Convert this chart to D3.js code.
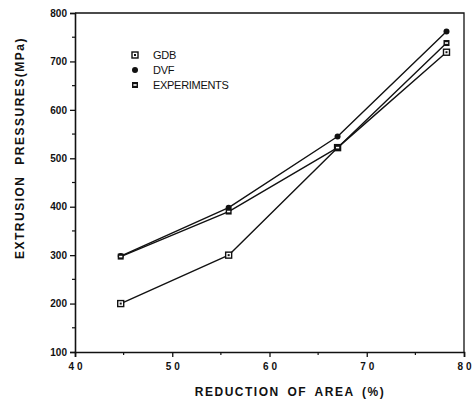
<!DOCTYPE html>
<html>
<head>
<meta charset="utf-8">
<script src="https://cdn.jsdelivr.net/npm/d3@7"></script>
<style>
	body { margin: 0; background: #fff; }
	svg { display: block; font-family: "Liberation Sans", Arial, sans-serif; }
	.tick text { font-size: 10px; font-weight: bold; fill: #111; }
	.title { font-size: 12px; font-weight: bold; fill: #111; letter-spacing: 1.5px; }
	.legend text { font-size: 11px; fill: #111; letter-spacing: -0.3px; }
</style>
</head>
<body>
<svg width="472" height="400"></svg>
<script>
// data
var reduction = [44.7, 55.8, 67, 78.2];
var gdb = [200, 300, 522, 719];
var dvf = [298, 398, 545, 762];
var experiments = [297, 390, 522, 738];
var xTicks = [40, 50, 60, 70, 80];
var yTicks = [100, 200, 300, 400, 500, 600, 700, 800];

var series = [
	{ name: "GDB", values: gdb, marker: "boxdot" },
	{ name: "DVF", values: dvf, marker: "dot" },
	{ name: "EXPERIMENTS", values: experiments, marker: "boxbar" }
];

var svg = d3.select("svg");

var x = d3.scaleLinear().domain([40, 80]).range([75, 464]);
var y = d3.scaleLinear().domain([100, 800]).range([352, 13]);

// frame (top + right)
svg.append("path")
	.attr("d", "M" + x(40) + "," + y(800) + "H" + x(80) + "V" + y(100))
	.attr("fill", "none")
	.attr("stroke", "#111")
	.attr("stroke-width", 1.3);

// x axis
var xAxis = svg.append("g")
	.attr("transform", "translate(0," + y(100) + ")")
	.call(d3.axisBottom(x).tickValues(xTicks).tickSize(5).tickPadding(6)
		.tickFormat(function(d) { return String(d).split("").join(" "); }));
xAxis.select(".domain").attr("stroke-width", 1.6).attr("stroke", "#111");
xAxis.selectAll(".tick line").attr("stroke", "#111").attr("stroke-width", 1.3);
xAxis.selectAll(".minor")
	.data([45, 55, 65, 75])
	.enter().append("line")
	.attr("x1", function(d) { return x(d); })
	.attr("x2", function(d) { return x(d); })
	.attr("y1", 0).attr("y2", 3)
	.attr("stroke", "#111").attr("stroke-width", 1.2);

// y axis
var yAxis = svg.append("g")
	.attr("transform", "translate(" + x(40) + ",0)")
	.call(d3.axisLeft(y).tickValues(yTicks).tickSize(5).tickPadding(3));
yAxis.select(".domain").attr("stroke-width", 1.6).attr("stroke", "#111");
yAxis.selectAll(".tick line").attr("stroke", "#111").attr("stroke-width", 1.3);
yAxis.selectAll(".minor")
	.data([150, 250, 350, 450, 550, 650, 750])
	.enter().append("line")
	.attr("y1", function(d) { return y(d); })
	.attr("y2", function(d) { return y(d); })
	.attr("x1", 0).attr("x2", -3)
	.attr("stroke", "#111").attr("stroke-width", 1.2);

// titles
svg.append("text")
	.attr("class", "title")
	.attr("x", 290).attr("y", 396)
	.attr("text-anchor", "middle")
	.attr("word-spacing", "3px")
	.text("REDUCTION OF AREA (%)");
svg.append("text")
	.attr("class", "title")
	.attr("transform", "translate(24,148) rotate(-90)")
	.attr("text-anchor", "middle")
	.attr("word-spacing", "6px")
	.text("EXTRUSION PRESSURES(MPa)");

// lines (hand drawn in the original, nearly straight between points)
var line = d3.line()
	.x(function(d, i) { return x(reduction[i]); })
	.y(function(d) { return y(d); });

svg.append("g").selectAll("path")
	.data(series)
	.enter().append("path")
	.attr("d", function(d) { return line(d.values); })
	.attr("fill", "none")
	.attr("stroke", "#111")
	.attr("stroke-width", 1.4)
	.attr("stroke-linejoin", "round");

function drawMarker(g, type) {
	if (type == "dot") {
		g.append("circle").attr("r", 3).attr("fill", "#111");
	} else if (type == "boxdot") {
		g.append("rect").attr("x", -3).attr("y", -3).attr("width", 6).attr("height", 6)
			.attr("fill", "#fff").attr("stroke", "#111").attr("stroke-width", 1.4);
		g.append("rect").attr("x", -1).attr("y", -1).attr("width", 2).attr("height", 2).attr("fill", "#111");
	} else {
		g.append("rect").attr("x", -3).attr("y", -3).attr("width", 6).attr("height", 6)
			.attr("fill", "#111");
		g.append("rect").attr("x", -1.6).attr("y", -0.8).attr("width", 3.2).attr("height", 1.6).attr("fill", "#fff");
	}
}

// markers
series.forEach(function(s) {
	s.values.forEach(function(v, i) {
		var g = svg.append("g").attr("transform", "translate(" + x(reduction[i]) + "," + y(v) + ")");
		drawMarker(g, s.marker);
	});
});

// legend
var legend = svg.append("g").attr("class", "legend");
series.forEach(function(s, i) {
	var ly = 55 + i * 15;
	var g = legend.append("g").attr("transform", "translate(135," + ly + ")");
	drawMarker(g, s.marker);
	legend.append("text")
		.attr("x", 153).attr("y", ly + 4)
		.text(s.name);
});
</script>
</body>
</html>
